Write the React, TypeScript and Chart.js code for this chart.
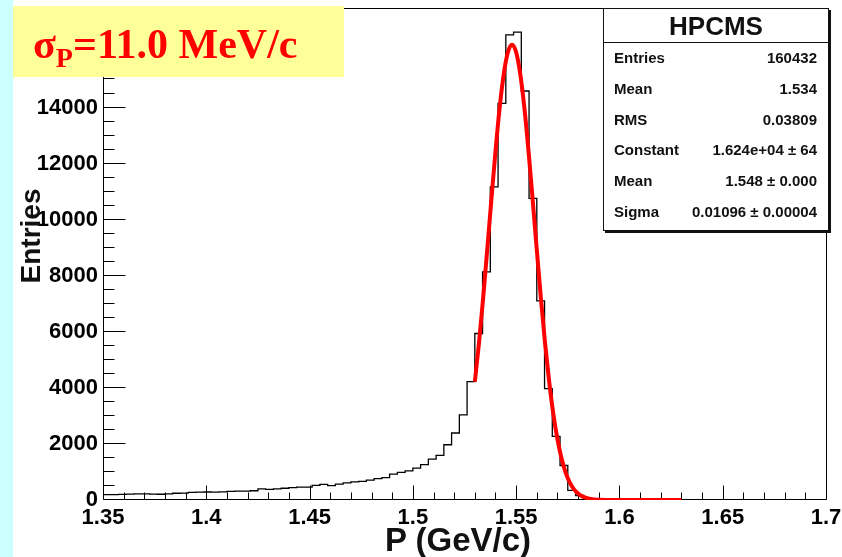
import React, { useEffect, useRef } from "react";
import { Chart, registerables } from "chart.js";

Chart.register(...registerables);

// ---- Data ----
const BIN_LOW = 1.35;
const BIN_WIDTH = 0.00375;
const binCounts = [
  190, 190, 200, 210, 220, 215, 210, 205, 220, 240,
  245, 275, 280, 285, 280, 290, 310, 315, 320, 330,
  400, 380, 400, 420, 440, 457, 460, 520, 560, 515,
  565, 610, 650, 665, 710, 765, 795, 925, 985, 1040,
  1135, 1265, 1460, 1590, 1970, 2390, 3040, 4220, 5940, 8140,
  11170, 14150, 16590, 16690, 14590, 10760, 7100, 3970, 2270, 1230,
  340, 160, 80, 30, 10, 5, 0, 0, 0, 0,
  0, 0, 0, 0, 0, 0, 0, 0, 0, 0,
  0, 0, 0, 0, 0, 0, 0, 0, 0, 0,
  0, 0, 0, 0,
];

const fitX = [
  1.53, 1.532, 1.534, 1.536, 1.538, 1.54, 1.542, 1.544, 1.546, 1.548,
  1.55, 1.552, 1.554, 1.556, 1.558, 1.56, 1.562, 1.564, 1.566, 1.568,
  1.57, 1.572, 1.574, 1.576, 1.578, 1.58, 1.582, 1.584, 1.586, 1.588,
  1.59, 1.6, 1.63,
];
const fitY = [
  4220, 5590, 7180, 8920, 10710, 12440, 13980, 15190, 15970, 16240,
  15970, 15190, 13980, 12440, 10710, 8920, 7180, 5590, 4220, 3070,
  2170, 1480, 970, 620, 380, 230, 130, 75, 40, 20,
  10, 0, 0,
];

const X_MIN = 1.35;
const X_MAX = 1.7;
const X_MINOR_STEP = 0.01;
const Y_MIN = 0;
const Y_MAX = 17550;
const Y_MINOR_STEP = 500;

const xMajorValues = [1.35, 1.4, 1.45, 1.5, 1.55, 1.6, 1.65, 1.7];
const xMajorLabels = ["1.35", "1.4", "1.45", "1.5", "1.55", "1.6", "1.65", "1.7"];
const yMajorValues = [0, 2000, 4000, 6000, 8000, 10000, 12000, 14000, 16000];
const yMajorLabels = ["0", "2000", "4000", "6000", "8000", "10000", "12000", "14000", "16000"];

const statsTitle = "HPCMS";
const statsLabels = ["Entries", "Mean", "RMS", "Constant", "Mean", "Sigma"];
const statsValues = ["160432", "1.534", "0.03809", "1.624e+04 \u00b1 64", "1.548 \u00b1 0.000", "0.01096 \u00b1 0.00004"];

const xTitle = "P (GeV/c)";
const yTitle = "Entries";

const SANS = "'Liberation Sans', Arial, Helvetica, sans-serif";
const SERIF = "'Liberation Serif', 'Times New Roman', serif";

const rootAxes = {
  id: "rootAxes",
  beforeDatasetsDraw(chart: any) {
    const ctx = chart.ctx;
    const ca = chart.chartArea;
    const l = Math.round(ca.left) + 0.5;
    const r = Math.round(ca.right) + 0.5;
    const t = Math.round(ca.top) + 0.5;
    const b = Math.round(ca.bottom) - 0.5;
    ctx.save();
    ctx.strokeStyle = "#000";
    ctx.lineWidth = 1;
    ctx.beginPath();
    ctx.rect(l, t, r - l, b - t);
    ctx.stroke();
    const xs = chart.scales.x;
    ctx.beginPath();
    for (const tk of xs.ticks) {
      const px = Math.round(xs.getPixelForValue(tk.value)) + 0.5;
      const major = !!tk.label;
      const len = major ? 14 : 7;
      ctx.moveTo(px, b);
      ctx.lineTo(px, b - len);
    }
    ctx.stroke();
    const ys = chart.scales.y;
    ctx.beginPath();
    for (const tk of ys.ticks) {
      const py = Math.round(ys.getPixelForValue(tk.value)) - 0.5;
      const major = !!tk.label;
      const len = major ? 22 : 11;
      ctx.moveTo(l, py);
      ctx.lineTo(l + len, py);
    }
    ctx.stroke();
    ctx.restore();
  },
};

function matchLabel(v: number, values: number[], labels: string[]) {
  for (let i = 0; i < values.length; i++) {
    if (Math.abs(v - values[i]) < 1e-6 * Math.max(1, Math.abs(values[i]))) return labels[i];
  }
  return "";
}

function buildTickList(min: number, max: number, step: number) {
  const out: { value: number }[] = [];
  const n = Math.floor((max - min) / step + 1e-6);
  for (let i = 0; i <= n; i++) out.push({ value: Math.round((min + i * step) * 1e6) / 1e6 });
  return out;
}

export default function App() {
  const ref = useRef<HTMLCanvasElement | null>(null);

  useEffect(() => {
    if (!ref.current) return;
    const histPoints = binCounts.map((c, i) => ({ x: BIN_LOW + i * BIN_WIDTH, y: c }));
    histPoints.push({ x: BIN_LOW + binCounts.length * BIN_WIDTH, y: 0 });
    const fitPoints = fitX.map((x, i) => ({ x, y: fitY[i] }));

    const tickFont = { family: SANS, weight: "bold" as const, size: 22 };

    const chart = new Chart(ref.current, {
      type: "line",
      data: {
        datasets: [
          {
            data: fitPoints,
            borderColor: "#ff0000",
            borderWidth: 4,
            pointRadius: 0,
            fill: false,
            cubicInterpolationMode: "monotone",
          },
          {
            data: histPoints,
            borderColor: "#000000",
            borderWidth: 1.3,
            pointRadius: 0,
            fill: false,
            stepped: "before",
          },
        ],
      },
      options: {
        responsive: false,
        animation: false,
        devicePixelRatio: 1,
        events: [],
        layout: { padding: { left: 0, right: 16, top: 8, bottom: 0 } },
        plugins: {
          legend: { display: false },
          tooltip: { enabled: false },
        },
        scales: {
          x: {
            type: "linear",
            min: X_MIN,
            max: X_MAX,
            grid: { display: false, drawTicks: false },
            border: { display: false },
            afterBuildTicks: (s: any) => {
              s.ticks = buildTickList(X_MIN, X_MAX, X_MINOR_STEP);
            },
            ticks: {
              autoSkip: false,
              maxRotation: 0,
              minRotation: 0,
              padding: 5,
              color: "#000",
              font: tickFont,
              callback: (v: any) => matchLabel(Number(v), xMajorValues, xMajorLabels),
            },
            afterFit: (s: any) => {
              s.height = 57;
              s.paddingLeft = 0;
              s.paddingRight = 0;
            },
          },
          y: {
            type: "linear",
            min: Y_MIN,
            max: Y_MAX,
            grid: { display: false, drawTicks: false },
            border: { display: false },
            afterBuildTicks: (s: any) => {
              s.ticks = buildTickList(Y_MIN, Y_MAX, Y_MINOR_STEP);
            },
            ticks: {
              autoSkip: false,
              padding: 5,
              color: "#000",
              font: tickFont,
              callback: (v: any) => matchLabel(Number(v), yMajorValues, yMajorLabels),
            },
            afterFit: (s: any) => {
              s.width = 103;
              s.paddingTop = 0;
              s.paddingBottom = 0;
            },
          },
        },
      } as any,
      plugins: [rootAxes],
    });
    return () => chart.destroy();
  }, []);

  const rowCenters = [58, 89, 120, 150, 181, 212];
  const boxLeft = 603;
  const boxTop = 8;

  return (
    <div style={{ position: "relative", width: 842, height: 557, overflow: "hidden", background: "#fff" }}>
      <style>{"body{margin:0}"}</style>
      <canvas ref={ref} width={842} height={557} style={{ position: "absolute", left: 0, top: 0 }} />
      <div style={{ position: "absolute", left: 0, top: 0, width: 13, height: 557, background: "#ccffff" }} />
      <div style={{ position: "absolute", left: 13, top: 6, width: 331, height: 71, background: "#ffff99" }} />
      <div
        style={{
          position: "absolute",
          left: 33,
          top: 23,
          whiteSpace: "nowrap",
          fontFamily: SERIF,
          fontWeight: "bold",
          fontSize: 42,
          lineHeight: "42px",
          color: "#ff0000",
        }}
      >
        {"\u03c3"}
        <span style={{ fontSize: 28, verticalAlign: "-9px" }}>P</span>
        {"=11.0 MeV/c"}
      </div>

      <div
        style={{
          position: "absolute",
          left: boxLeft,
          top: boxTop,
          width: 224,
          height: 221,
          background: "#fff",
          border: "1px solid #111",
          boxShadow: "2px 2px 0 #111",
          fontFamily: SANS,
          color: "#111",
        }}
      >
        <div
          style={{
            position: "absolute",
            left: 0,
            right: 0,
            top: 2,
            height: 30,
            lineHeight: "30px",
            textAlign: "center",
            fontSize: 26,
            fontWeight: "bold",
          }}
        >
          {statsTitle}
        </div>
        <div style={{ position: "absolute", left: 0, right: 0, top: 33, height: 1, background: "#111" }} />
        {statsLabels.map((lab, i) => (
          <div
            key={i}
            style={{
              position: "absolute",
              left: 10,
              right: 11,
              top: rowCenters[i] - boxTop - 1 - 9,
              height: 18,
              lineHeight: "18px",
              display: "flex",
              justifyContent: "space-between",
              fontSize: 15,
              fontWeight: "bold",
              whiteSpace: "nowrap",
            }}
          >
            <span>{lab}</span>
            <span>{statsValues[i]}</span>
          </div>
        ))}
      </div>

      <div
        style={{
          position: "absolute",
          left: 258,
          top: 521,
          width: 400,
          height: 38,
          lineHeight: "38px",
          textAlign: "center",
          fontFamily: SANS,
          fontWeight: "bold",
          fontSize: 33,
          color: "#111",
          whiteSpace: "nowrap",
        }}
      >
        {xTitle}
      </div>
      <div
        style={{
          position: "absolute",
          left: 31 - 100,
          top: 236 - 17,
          width: 200,
          height: 34,
          lineHeight: "34px",
          textAlign: "center",
          fontFamily: SANS,
          fontWeight: "bold",
          fontSize: 28,
          color: "#111",
          whiteSpace: "nowrap",
          transform: "rotate(-90deg)",
        }}
      >
        {yTitle}
      </div>
    </div>
  );
}
